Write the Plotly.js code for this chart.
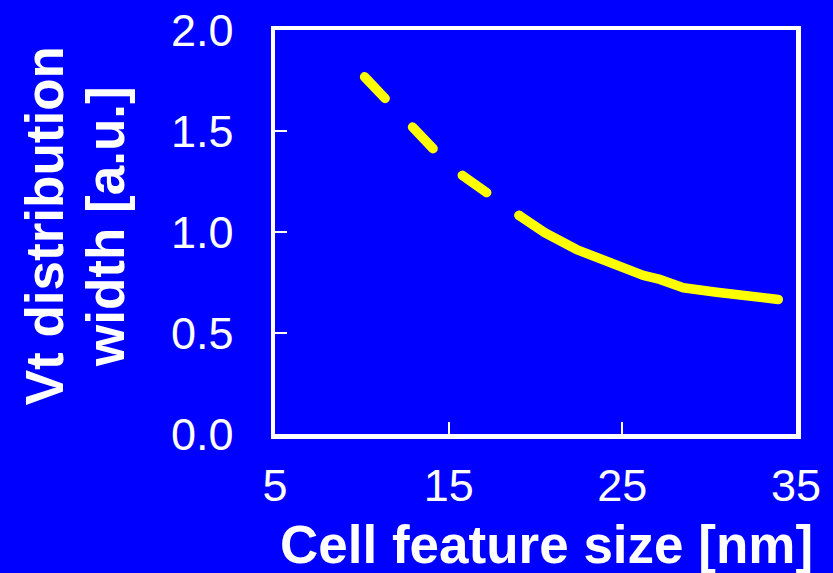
<!DOCTYPE html>
<html>
<head>
<meta charset="utf-8">
<script src="https://cdn.plot.ly/plotly-3.0.1.min.js"></script>
<style>
html,body{margin:0;padding:0;background:#0000ff;}
#chart{width:833px;height:573px;}
#chart .js-line{stroke-linecap:round;stroke-linejoin:round;}
</style>
</head>
<body>
<div id="chart"></div>
<script>
// Projected (dashed) part of the curve
const xProjected = [10.16, 11.35, 12.87, 14.11, 15.78, 17.19, 19.06];
const yProjected = [1.768, 1.662, 1.516, 1.412, 1.281, 1.197, 1.082];
// Measured (solid) part of the curve
const xMeasured = [19.06, 20.54, 22.37, 24.29, 26.20, 27.17, 28.51, 30.43, 32.35, 33.98];
const yMeasured = [1.082, 0.996, 0.913, 0.844, 0.785, 0.765, 0.724, 0.702, 0.686, 0.666];
// Tick values / labels
const xTicks = [5, 15, 25, 35];
const xTickText = ['5', '15', '25', '35'];
const yTicks = [0, 0.5, 1.0, 1.5, 2.0];
const yTickText = ['0.0', '0.5', '1.0', '1.5', '2.0'];
// Titles
const xTitle = 'Cell feature size [nm]';
const yTitleLines = ['Vt distribution', 'width [a.u.]'];

const FONT = 'Arial, "Liberation Sans", sans-serif';
const traces = [
  {x: xProjected, y: yProjected, mode: 'lines', type: 'scatter',
   line: {color: '#ffff00', width: 9.5, dash: '29.8px,39.6px'}, hoverinfo: 'skip'},
  {x: xMeasured, y: yMeasured, mode: 'lines', type: 'scatter',
   line: {color: '#ffff00', width: 9.5}, hoverinfo: 'skip'}
];
const titleFont = {size: 53, family: FONT, color: '#ffffff', weight: 'bold'};
const layout = {
  width: 833, height: 573,
  paper_bgcolor: '#0000ff', plot_bgcolor: '#0000ff',
  showlegend: false,
  margin: {l: 275, r: 37, t: 30, b: 139, pad: 0},
  font: {family: FONT, color: '#ffffff'},
  xaxis: {
    range: [5, 35], tickvals: xTicks, ticktext: xTickText,
    showgrid: false, zeroline: false,
    showline: true, mirror: true, linecolor: '#ffffff', linewidth: 4.5,
    ticks: 'inside', ticklen: 12, tickwidth: 2, tickcolor: '#ffffff',
    tickfont: {size: 45, family: FONT, color: '#ffffff'},
    ticklabelstandoff: 8
  },
  yaxis: {
    range: [0, 2], tickvals: yTicks, ticktext: yTickText,
    showgrid: false, zeroline: false,
    showline: true, mirror: true, linecolor: '#ffffff', linewidth: 4.5,
    ticks: 'inside', ticklen: 12, tickwidth: 2, tickcolor: '#ffffff',
    tickfont: {size: 45, family: FONT, color: '#ffffff'},
    ticklabelstandoff: 28
  },
  annotations: [
    {text: xTitle, xref: 'paper', yref: 'paper', x: 0.522, y: -0.273,
     xanchor: 'center', yanchor: 'middle', showarrow: false, font: titleFont, borderpad: 0},
    {text: yTitleLines[0], xref: 'paper', yref: 'paper', x: -0.442, y: 0.516,
     xanchor: 'center', yanchor: 'middle', textangle: -90, showarrow: false, font: titleFont},
    {text: yTitleLines[1], xref: 'paper', yref: 'paper', x: -0.325, y: 0.514,
     xanchor: 'center', yanchor: 'middle', textangle: -90, showarrow: false, font: titleFont}
  ]
};
Plotly.newPlot('chart', traces, layout, {displayModeBar: false, staticPlot: true});
</script>
</body>
</html>
